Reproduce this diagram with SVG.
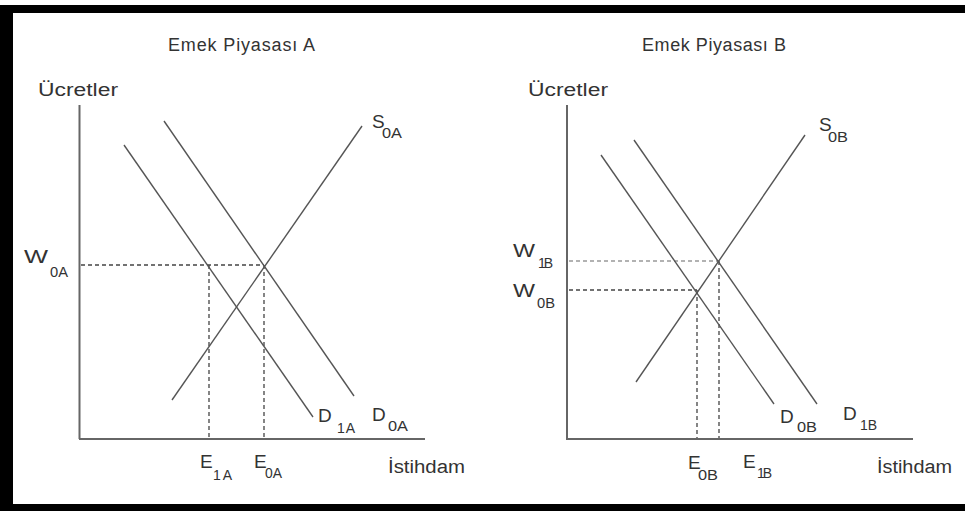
<svg xmlns="http://www.w3.org/2000/svg" width="965" height="511" viewBox="0 0 965 511">
<style>
.t{font-family:"Liberation Sans",Arial,sans-serif;fill:#333;}
.big{font-size:19px;}
.sub{font-size:14px;}
.ttl{font-size:18px;}
.axis{stroke:#666;stroke-width:2;fill:none;}
.curve{stroke:#555;stroke-width:1.4;fill:none;}
.dash{stroke:#444;stroke-width:1.3;stroke-dasharray:4 3;fill:none;}
.dashl{stroke:#999;stroke-width:1.5;stroke-dasharray:4 3;fill:none;}
</style>
<rect x="0" y="0" width="965" height="511" fill="#fff"/>
<g id="frame" fill="#000">
<rect x="0" y="5" width="965" height="8"/>
<rect x="0" y="5" width="13" height="506"/>
<rect x="0" y="504" width="965" height="7"/>
</g>

<g id="panelA">
<text class="t ttl" x="168" y="51" textLength="147" lengthAdjust="spacing">Emek Piyasası A</text>
<text class="t ttl" x="38" y="96" textLength="80" lengthAdjust="spacingAndGlyphs">Ücretler</text>
<text class="t ttl" x="388" y="473" textLength="77" lengthAdjust="spacingAndGlyphs">İstihdam</text>
<g id="axesA">
<line class="axis" x1="79.5" y1="105" x2="79.5" y2="439"/>
<line class="axis" x1="79" y1="439" x2="425" y2="439"/>
</g>
<g id="connectorsA">
<line class="dash" x1="81" y1="265" x2="264" y2="265"/>
<line class="dash" x1="209" y1="265" x2="209" y2="438"/>
<line class="dash" x1="264" y1="265" x2="264" y2="438"/>
<line id="S0A" class="curve" x1="172" y1="400" x2="362" y2="126"/>
<line id="D0A" class="curve" x1="164" y1="121" x2="354" y2="396"/>
<line id="D1A" class="curve" x1="124" y1="145" x2="313" y2="417"/>
</g>
<g id="labelS0A"><text class="t big" x="372" y="128">S</text><text class="t sub" x="382" y="138" textLength="20" lengthAdjust="spacingAndGlyphs">0A</text></g>
<g id="labelW0A"><text class="t big" x="24" y="263" textLength="24" lengthAdjust="spacingAndGlyphs">W</text><text class="t sub" x="50" y="277" textLength="18" lengthAdjust="spacingAndGlyphs">0A</text></g>
<g id="labelD1A"><text class="t big" x="318" y="422">D</text><text class="t sub" x="337" y="433" textLength="18" lengthAdjust="spacing">1A</text></g>
<g id="labelD0A"><text class="t big" x="372" y="421">D</text><text class="t sub" x="388" y="431" textLength="20" lengthAdjust="spacingAndGlyphs">0A</text></g>
<g id="labelE1A"><text class="t big" x="200" y="468">E</text><text class="t sub" x="213" y="480" textLength="19" lengthAdjust="spacing">1A</text></g>
<g id="labelE0A"><text class="t big" x="254" y="468">E</text><text class="t sub" x="265" y="478" textLength="17" lengthAdjust="spacingAndGlyphs">0A</text></g>
</g>

<g id="panelB">
<text class="t ttl" x="642" y="51" textLength="144" lengthAdjust="spacing">Emek Piyasası B</text>
<text class="t ttl" x="528" y="96" textLength="80" lengthAdjust="spacingAndGlyphs">Ücretler</text>
<text class="t ttl" x="877" y="473" textLength="75" lengthAdjust="spacingAndGlyphs">İstihdam</text>
<g id="axesB">
<line class="axis" x1="567" y1="105" x2="567" y2="439"/>
<line class="axis" x1="566" y1="439" x2="913" y2="439"/>
</g>
<g id="connectorsB">
<line class="dashl" x1="569" y1="261" x2="719" y2="261"/>
<line class="dash" x1="569" y1="290" x2="697" y2="290"/>
<line class="dash" x1="697" y1="290" x2="697" y2="438"/>
<line class="dash" x1="719" y1="261" x2="719" y2="438"/>
<line id="S0B" class="curve" x1="636" y1="382" x2="805" y2="135"/>
<line id="D0B" class="curve" x1="601" y1="155" x2="774" y2="404"/>
<line id="D1B" class="curve" x1="634" y1="140" x2="817" y2="404"/>
</g>
<g id="labelS0B"><text class="t big" x="819" y="131">S</text><text class="t sub" x="828" y="142" textLength="20" lengthAdjust="spacingAndGlyphs">0B</text></g>
<g id="labelW1B"><text class="t big" x="513" y="257" textLength="22" lengthAdjust="spacingAndGlyphs">W</text><text class="t sub" x="538" y="268" textLength="15" lengthAdjust="spacing">1B</text></g>
<g id="labelW0B"><text class="t big" x="513" y="297" textLength="22" lengthAdjust="spacingAndGlyphs">W</text><text class="t sub" x="537" y="308" textLength="18" lengthAdjust="spacingAndGlyphs">0B</text></g>
<g id="labelD0B"><text class="t big" x="780" y="423">D</text><text class="t sub" x="797" y="432" textLength="20" lengthAdjust="spacingAndGlyphs">0B</text></g>
<g id="labelD1B"><text class="t big" x="843" y="420">D</text><text class="t sub" x="860" y="430" textLength="17" lengthAdjust="spacing">1B</text></g>
<g id="labelE0B"><text class="t big" x="688" y="469">E</text><text class="t sub" x="698" y="480" textLength="20" lengthAdjust="spacingAndGlyphs">0B</text></g>
<g id="labelE1B"><text class="t big" x="743" y="468">E</text><text class="t sub" x="757" y="478" textLength="15" lengthAdjust="spacing">1B</text></g>
</g>
</svg>
